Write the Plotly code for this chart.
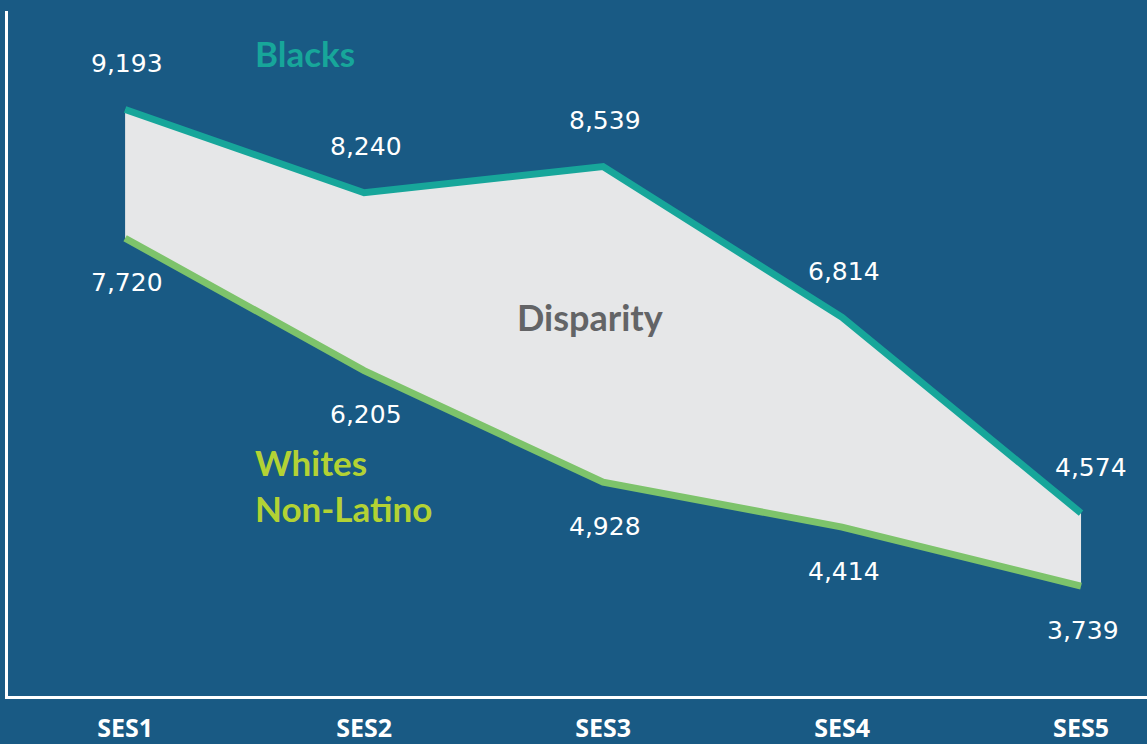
import plotly.graph_objects as go

categories = ["SES1", "SES2", "SES3", "SES4", "SES5"]
blacks = [9193, 8240, 8539, 6814, 4574]
whites = [7720, 6205, 4928, 4414, 3739]

BG = "#195a84"
TEAL = "#17a69a"
GREEN = "#7dc36b"
LIME = "#b3d234"
FILL = "#e6e7e8"
GRAY = "#636466"

fig = go.Figure()
# disparity band
fig.add_trace(go.Scatter(x=categories, y=whites, mode="lines", line=dict(width=0, color=FILL),
                         hoverinfo="skip", showlegend=False))
fig.add_trace(go.Scatter(x=categories, y=blacks, mode="lines", line=dict(width=0, color=FILL),
                         fill="tonexty", fillcolor=FILL, hoverinfo="skip", showlegend=False))
# lines
fig.add_trace(go.Scatter(x=categories, y=whites, mode="lines", line=dict(width=7, color=GREEN),
                         hoverinfo="skip", showlegend=False))
fig.add_trace(go.Scatter(x=categories, y=blacks, mode="lines", line=dict(width=7, color=TEAL),
                         hoverinfo="skip", showlegend=False))

numfont = dict(family="DejaVu Sans", size=25, color="white")
last = len(categories) - 1
for i, (c, b, w) in enumerate(zip(categories, blacks, whites)):
    fig.add_annotation(x=c, y=b, text=f"{b:,}", showarrow=False, yshift=46,
                       xshift=(10 if i == last else 2), font=numfont)
    fig.add_annotation(x=c, y=w, text=f"{w:,}", showarrow=False, yshift=-44,
                       xshift=2, font=numfont)

labfont = "Lato, 'Open Sans', sans-serif"
fig.add_annotation(xref="paper", yref="paper", x=0.2608, y=0.939, text="<b>Blacks</b>", showarrow=False,
                   font=dict(family=labfont, size=35, color=TEAL), xanchor="center", yanchor="middle")
fig.add_annotation(xref="paper", yref="paper", x=0.2151, y=0.308, text="<b>Whites<br>Non-Latino</b>",
                   showarrow=False, align="left",
                   font=dict(family=labfont, size=35, color=LIME), xanchor="left", yanchor="middle")
fig.add_annotation(xref="paper", yref="paper", x=0.5110, y=0.554, text="<b>Disparity</b>", showarrow=False,
                   font=dict(family=labfont, size=36, color=GRAY), xanchor="center", yanchor="middle")

fig.update_layout(
    width=1147, height=744,
    paper_bgcolor=BG, plot_bgcolor=BG,
    margin=dict(l=8, r=0, t=11, b=42),
    hovermode=False,
    showlegend=False,
)
fig.update_xaxes(type="category", range=[-0.49, 4.276], showgrid=False, zeroline=False,
                 showline=True, linecolor="white", linewidth=2.5,
                 ticks="", ticklabelstandoff=8,
                 tickfont=dict(family="'Open Sans', sans-serif", size=25, color="white", weight="bold"))
fig.update_yaxes(range=[2481, 10320], showgrid=False, zeroline=False, showticklabels=False,
                 showline=True, linecolor="white", linewidth=2.5, ticks="")

fig.write_html("out.html", config={"displayModeBar": False},
               post_script="document.body.style.margin='0';document.body.style.padding='0';"
                           "document.body.style.overflow='hidden';")
